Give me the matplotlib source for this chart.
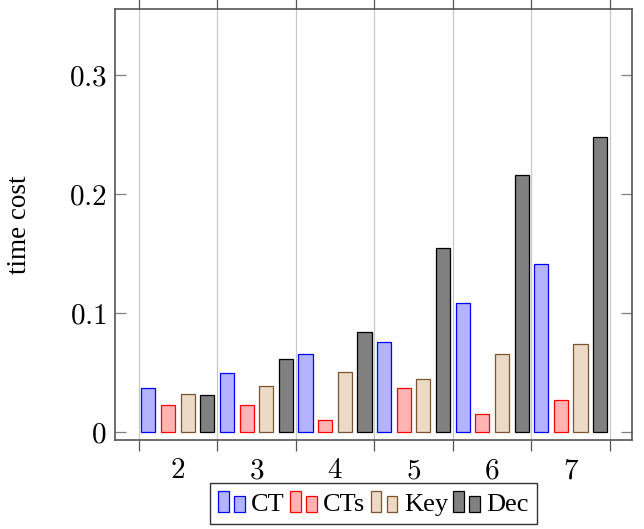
import numpy as np
import matplotlib
matplotlib.use("Agg")
import matplotlib.pyplot as plt
from matplotlib.patches import Rectangle
from matplotlib.legend_handler import HandlerBase

plt.rcParams['font.family'] = ['Liberation Serif', 'DejaVu Serif']
plt.rcParams['mathtext.fontset'] = 'cm'

# data
groups = [2, 3, 4, 5, 6, 7]
ct = [0.037, 0.050, 0.066, 0.076, 0.109, 0.141]
cts = [0.023, 0.023, 0.010, 0.037, 0.015, 0.027]
key = [0.032, 0.039, 0.051, 0.045, 0.066, 0.074]
dec = [0.031, 0.062, 0.084, 0.155, 0.216, 0.248]
series_names = ["CT", "CTs", "Key", "Dec"]
y_ticks = [0, 0.1, 0.2, 0.3]
y_tick_labels = ["$0$", "$0.1$", "$0.2$", "$0.3$"]

fills = ['#b3b3ff', '#ffb3b3', '#ecd9c6', '#808080']
edges = ['#0000ff', '#ff0000', '#7a5530', '#000000']


class TwoBars(HandlerBase):
    # pgfplots style ybar legend: two small bars
    def create_artists(self, legend, orig_handle, xdescent, ydescent,
                       width, height, fontsize, trans):
        fc = orig_handle.get_facecolor()
        ec = orig_handle.get_edgecolor()
        w = width * 0.4
        x0 = -xdescent
        y0 = -ydescent
        r1 = Rectangle((x0, y0), w, height, facecolor=fc, edgecolor=ec,
                       lw=0.9, transform=trans)
        r2 = Rectangle((x0 + width - w, y0), w, height * 0.75, facecolor=fc,
                       edgecolor=ec, lw=0.9, transform=trans)
        return [r1, r2]


fig = plt.figure(figsize=(6.44, 5.29), dpi=100)
ax = fig.add_axes([0.1786, 0.1682, 0.8028, 0.8148])

x = np.array(groups, dtype=float)
width = 0.18
offsets = [-0.375, -0.125, 0.125, 0.375]
data = [ct, cts, key, dec]
handles = []
for i in range(4):
    b = ax.bar(x + offsets[i], data[i], width, color=fills[i],
               edgecolor=edges[i], linewidth=0.9, label=series_names[i], zorder=3)
    handles.append(b.patches[0])

ax.set_xlim(1.2, 7.78)
ax.set_ylim(-0.0065, 0.3557)

# x: labels on integers, ticks + grid on half steps
ax.set_xticks(groups)
ax.set_xticklabels(["$%d$" % g for g in groups], fontsize=21)
ax.set_xticks(np.arange(1.5, 8, 1.0), minor=True)
ax.tick_params(axis='x', which='major', length=0, pad=13)
ax.tick_params(axis='x', which='minor', direction='out', length=8,
               color='#555555', width=0.9, top=True, bottom=True)
ax.grid(True, axis='x', which='minor', color='#c8c8c8', lw=0.9, zorder=0)

ax.set_yticks(y_ticks)
ax.set_yticklabels(y_tick_labels, fontsize=21)
ax.tick_params(axis='y', direction='in', length=8, color='#808080',
               width=0.9, right=True, left=True, pad=6)

for s in ax.spines.values():
    s.set_color('#555555')
    s.set_linewidth(1.2)

ax.set_ylabel("time cost", fontsize=19.5)
ax.yaxis.set_label_coords(-0.16, 0.5)

leg = ax.legend(handles=handles, labels=series_names, loc='upper center',
                bbox_to_anchor=(0.5, -0.1), ncol=4, fontsize=19,
                handler_map={h: TwoBars() for h in handles},
                handlelength=1.0, handleheight=0.85, handletextpad=0.25,
                columnspacing=0.2, borderpad=0.3, borderaxespad=0,
                fancybox=False, framealpha=1, edgecolor='#333333')
leg.get_frame().set_linewidth(1.0)

fig.savefig("out.png", dpi=100)
